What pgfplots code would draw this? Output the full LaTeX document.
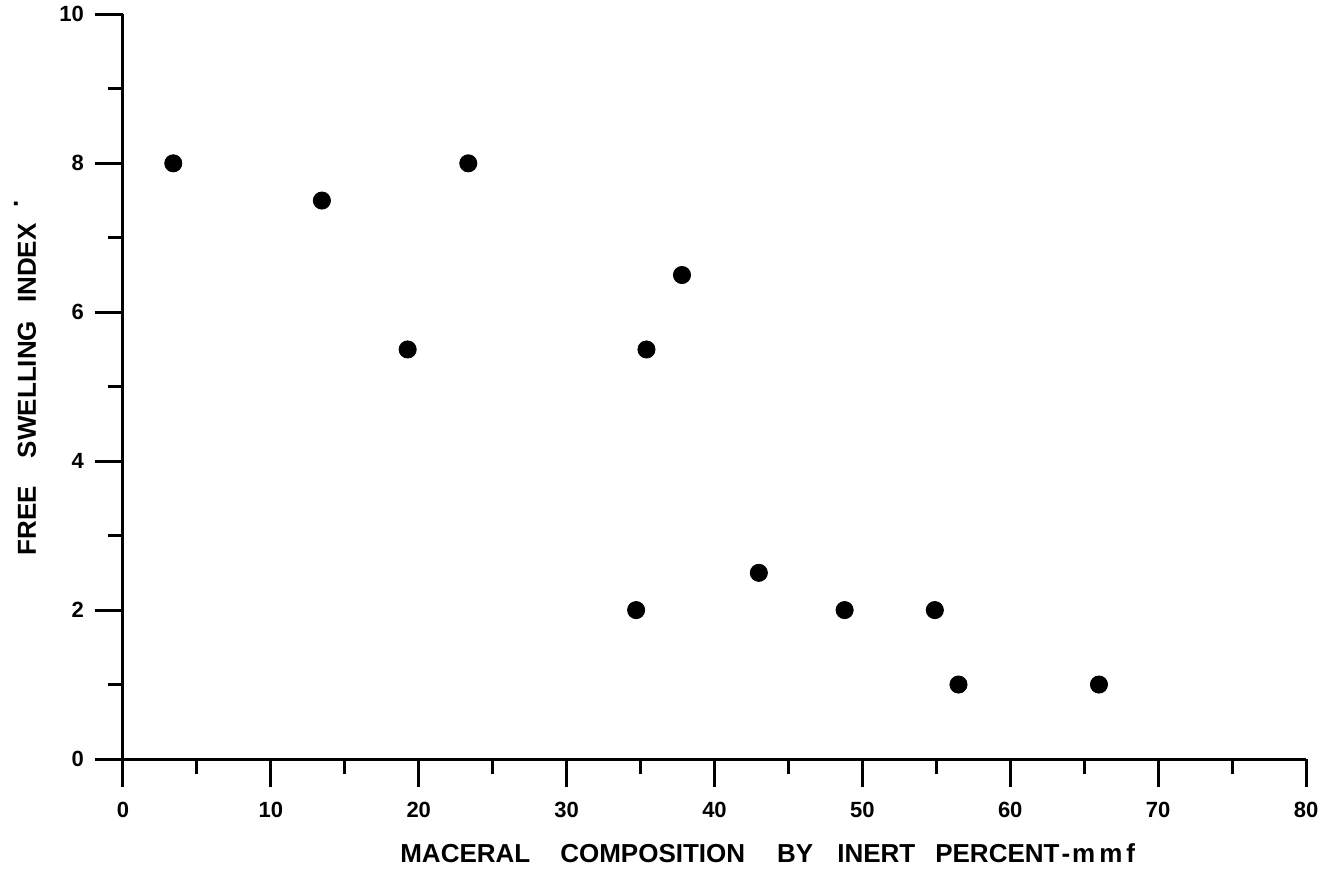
\documentclass[border=0pt]{standalone}
\usepackage{pgfplots}
\pgfplotsset{compat=1.18}
\usepackage{fontspec}
\setmainfont{Liberation Sans}
\begin{document}
\begin{tikzpicture}
\useasboundingbox (-61.5pt,-56.5pt) rectangle (604pt,379.5pt);
\begin{axis}[
  scale only axis,
  width=591.5pt, height=372.3pt,
  xmin=0, xmax=80, ymin=0, ymax=10,
  axis x line=bottom, axis y line=left,
  axis line style={-, line width=1.5pt},
  xtick={0,10,...,80}, ytick={0,2,...,10},
  minor x tick num=1, minor y tick num=1,
  tick align=outside,
  tick style={line width=1.5pt, black},
  major tick length=14pt, minor tick length=7.5pt,
  /pgf/number format/assume math mode=true,
  ticklabel style={font=\fontsize{11}{13}\selectfont\bfseries},
  xticklabel style={yshift=-4pt},
  yticklabel style={xshift=-2pt},
  xlabel={MACERAL\hspace{15pt}COMPOSITION\hspace{16pt}BY\hspace{12pt}INERT\hspace{10pt}PERCENT\kern1pt-\kern1pt m\kern2pt m\kern2pt f},
  ylabel={FREE\hspace{14pt}SWELLING\hspace{9pt}INDEX\hspace{8pt}\raisebox{1.3ex}{.}},
  label style={font=\fontsize{13}{15}\selectfont\bfseries},
  xlabel style={at={(axis description cs:0.545,-0.126)}, anchor=center},
  ylabel style={at={(axis description cs:-0.0828,0.512)}, anchor=center},
  clip=false,
]
\addplot[only marks, mark=*, mark size=4.3pt, black] coordinates {
  (3.4,8) (13.45,7.5) (19.25,5.5) (23.35,8)
  (37.8,6.5) (35.4,5.5) (34.7,2) (43.0,2.5)
  (48.8,2) (54.9,2) (56.5,1) (66.0,1)
};
\end{axis}
\end{tikzpicture}
\end{document}
